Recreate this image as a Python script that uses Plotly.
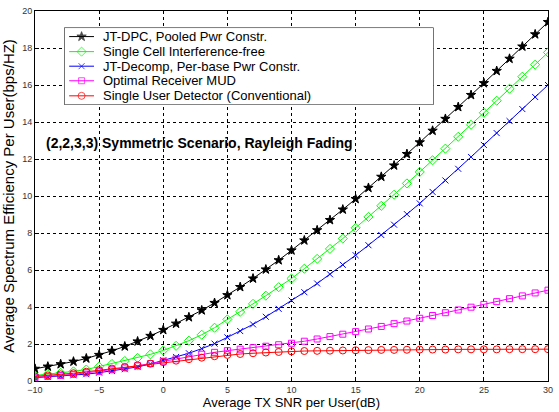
import plotly.graph_objects as go

snr_db = list(range(-10, 31))

jt_dpc = [0.66, 0.78, 0.91, 1.05, 1.22, 1.41, 1.63, 1.87, 2.14, 2.44,
          2.76, 3.10, 3.45, 3.82, 4.22, 4.64, 5.08, 5.54, 6.03, 6.53,
          7.06, 7.60, 8.15, 8.70, 9.27, 9.84, 10.44, 11.04, 11.65, 12.27,
          12.90, 13.53, 14.17, 14.81, 15.46, 16.10, 16.76, 17.42, 18.08, 18.74, 19.40]

single_cell = [0.30, 0.37, 0.44, 0.52, 0.62, 0.78, 0.92, 1.08, 1.25, 1.44,
               1.65, 1.90, 2.18, 2.50, 2.88, 3.33, 3.74, 4.17, 4.61, 5.07,
               5.54, 6.07, 6.60, 7.14, 7.70, 8.28, 8.87, 9.47, 10.07, 10.68,
               11.30, 11.93, 12.56, 13.20, 13.85, 14.50, 15.15, 15.80, 16.45, 17.10, 17.76]

jt_decomp = [0.18, 0.22, 0.26, 0.31, 0.37, 0.45, 0.54, 0.64, 0.76, 0.92,
             1.12, 1.30, 1.50, 1.75, 2.02, 2.36, 2.70, 3.06, 3.47, 3.90,
             4.35, 4.80, 5.27, 5.77, 6.28, 6.80, 7.34, 7.89, 8.45, 9.02,
             9.60, 10.22, 10.84, 11.47, 12.11, 12.76, 13.40, 14.05, 14.70, 15.35, 16.00]

opt_mud = [0.20, 0.25, 0.30, 0.36, 0.44, 0.52, 0.61, 0.71, 0.82, 0.94,
           1.07, 1.20, 1.33, 1.45, 1.55, 1.64, 1.72, 1.80, 1.88, 1.96,
           2.04, 2.15, 2.27, 2.40, 2.53, 2.67, 2.81, 2.95, 3.10, 3.24,
           3.39, 3.54, 3.69, 3.84, 3.99, 4.14, 4.29, 4.45, 4.60, 4.76, 4.91]

single_user = [0.25, 0.30, 0.36, 0.42, 0.50, 0.58, 0.67, 0.76, 0.85, 0.94,
               1.02, 1.10, 1.18, 1.26, 1.34, 1.41, 1.46, 1.50, 1.54, 1.57,
               1.60, 1.62, 1.63, 1.64, 1.65, 1.66, 1.67, 1.68, 1.68, 1.69,
               1.70, 1.70, 1.70, 1.71, 1.71, 1.71, 1.71, 1.72, 1.72, 1.72, 1.72]

x_ticks = [-10, -5, 0, 5, 10, 15, 20, 25, 30]
y_ticks = [0, 2, 4, 6, 8, 10, 12, 14, 16, 18, 20]

series = [
    ("JT-DPC, Pooled Pwr Constr.", jt_dpc, "#000000", "star", 7),
    ("Single Cell Interference-free", single_cell, "#00ff00", "diamond-open", 7),
    ("JT-Decomp, Per-base Pwr Constr.", jt_decomp, "#0000ff", "x-thin-open", 6),
    ("Optimal Receiver MUD", opt_mud, "#ff00ff", "square-open", 6),
    ("Single User Detector (Conventional)", single_user, "#ff0000", "circle-open", 7),
]

FONT = "Liberation Sans, Arial"

# plot area in pixels
L, R, T, B = 35, 553, 11, 383
W, H = R - L, B - T

fig = go.Figure()
for name, vals, color, sym, size in series:
    fig.add_trace(go.Scatter(
        x=snr_db, y=vals, name=name, mode="lines+markers",
        line=dict(color=color, width=1),
        marker=dict(symbol=sym, size=size, color=color,
                    line=dict(color=color, width=1)),
        showlegend=False,
    ))

# manual legend drawn in its own small frame (pixel-like units)
row_y = [37, 52, 66.5, 81, 96]
for (name, vals, color, sym, size), ry in zip(series, row_y):
    fig.add_trace(go.Scatter(
        x=[70, 82.5, 95], y=[ry, ry, ry], mode="lines+markers",
        line=dict(color=color, width=1),
        marker=dict(symbol=sym, size=[0, size, 0], color=color,
                    line=dict(color=color, width=1)),
        xaxis="x2", yaxis="y2", showlegend=False, hoverinfo="skip",
    ))
    fig.add_annotation(text=name, xref="x2", yref="y2", x=102, y=ry,
                       xanchor="left", yanchor="middle", showarrow=False,
                       font=dict(family=FONT, size=13, color="#000000"))

fig.add_shape(type="rect", xref="x2", yref="y2",
              x0=65, x1=437, y0=28, y1=105,
              line=dict(color="#000000", width=1), fillcolor="#ffffff",
              layer="below")

axis_common = dict(
    showgrid=True, gridcolor="#000000", griddash="dot", gridwidth=1,
    showline=True, linecolor="#000000", linewidth=1, mirror=True,
    ticks="inside", ticklen=4, tickcolor="#000000",
    zeroline=False,
    tickfont=dict(family=FONT, size=9, color="#333333"),
)

fig.update_xaxes(range=[-10, 30], tickvals=x_ticks,
                 title_text="Average TX SNR per User(dB)", title_standoff=2,
                 title_font=dict(family=FONT, size=13, color="#000000"),
                 **axis_common)
fig.update_yaxes(range=[0, 20], tickvals=y_ticks,
                 title_text="Average Spectrum Efficiency Per User(bps/HZ)",
                 title_standoff=3,
                 title_font=dict(family=FONT, size=15, color="#000000"),
                 **axis_common)

fig.add_annotation(text="<b>(2,2,3,3) Symmetric Scenario, Rayleigh Fading</b>",
                   xref="x", yref="y", x=-9.3, y=12.85, xanchor="left",
                   showarrow=False,
                   font=dict(family=FONT, size=14, color="#000000"))

fig.update_layout(
    width=559, height=412,
    margin=dict(l=L, r=559 - R, t=T, b=412 - B),
    plot_bgcolor="#ffffff", paper_bgcolor="#ffffff",
    font=dict(family=FONT, color="#000000"),
    showlegend=False,
    xaxis2=dict(domain=[(65 - L) / W - 0.001, (437 - L) / W + 0.001],
                range=[65, 437], anchor="y2", visible=False, fixedrange=True),
    yaxis2=dict(domain=[(B - 105) / H - 0.001, (B - 28) / H + 0.001],
                range=[105, 28], anchor="x2", visible=False, fixedrange=True),
)

fig.write_html("out.html")
